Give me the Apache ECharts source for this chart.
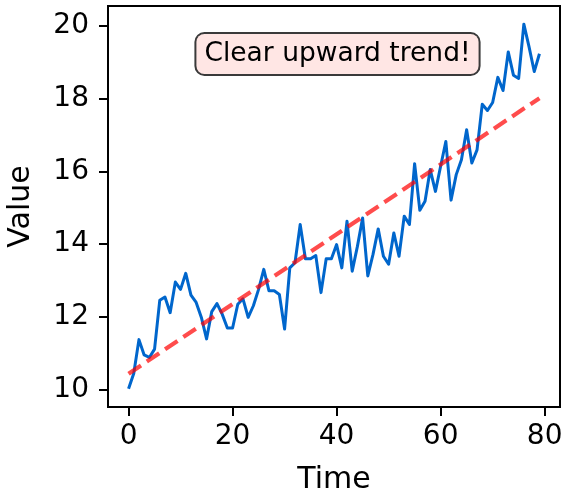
<!DOCTYPE html>
<html>
<head>
<meta charset="utf-8">
<script src="https://cdn.jsdelivr.net/npm/echarts@6/dist/echarts.min.js"></script>
<style>
html,body{margin:0;padding:0;background:#fff;}
#c{width:569px;height:493px;}
</style>
</head>
<body>
<div id="c"></div>
<script>
const times = Array.from({length: 80}, (_, i) => i);
const values = [
  10.03, 10.45, 11.38, 10.96, 10.89, 11.12, 12.46, 12.55, 12.12, 12.96,
  12.76, 13.20, 12.60, 12.40, 11.99, 11.40, 12.15, 12.37, 12.08, 11.70,
  11.70, 12.35, 12.50, 11.99, 12.31, 12.76, 13.31, 12.72, 12.72, 12.62,
  11.67, 13.35, 13.49, 14.54, 13.60, 13.60, 13.69, 12.67, 13.60, 13.60,
  13.99, 13.35, 14.63, 13.26, 13.94, 14.72, 13.13, 13.72, 14.42, 13.67,
  13.45, 14.31, 13.67, 14.77, 14.54, 16.21, 14.93, 15.18, 16.05, 15.45,
  16.14, 16.82, 15.21, 15.91, 16.32, 17.14, 16.23, 16.59, 17.84, 17.67,
  17.89, 18.58, 18.22, 19.28, 18.64, 18.55, 20.04, 19.42, 18.74, 19.23
];
const trendX = [0, 79];
const trendY = [10.44, 18.01];
const xTicks = [0, 20, 40, 60, 80];
const yTicks = [10, 12, 14, 16, 18, 20];
const annotationText = 'Clear upward trend!';

const FONT = '"DejaVu Sans", sans-serif';
const chart = echarts.init(document.getElementById('c'), null, {renderer: 'canvas'});

const axisCommon = {
  axisLine: {show: true, onZero: false, lineStyle: {color: '#000', width: 2}},
  axisTick: {show: true, inside: false, length: 9, lineStyle: {color: '#000', width: 2}},
  splitLine: {show: false},
  nameTextStyle: {fontFamily: FONT, fontSize: 30, color: '#000'}
};

chart.setOption({
  animation: false,
  backgroundColor: '#fff',
  grid: {left: 108, right: 9, top: 6, bottom: 86, containLabel: false, outerBoundsMode: 'none',
         show: true, borderColor: '#000', borderWidth: 2, backgroundColor: 'transparent'},
  xAxis: Object.assign({}, axisCommon, {
    type: 'value', min: -3.95, max: 82.95,
    name: 'Time', nameLocation: 'middle', nameGap: 58,
    axisTick: Object.assign({}, axisCommon.axisTick, {customValues: xTicks}),
    axisLabel: {customValues: xTicks, fontFamily: FONT, fontSize: 28, color: '#000', margin: 16}
  }),
  yAxis: Object.assign({}, axisCommon, {
    type: 'value', min: 9.53, max: 20.54,
    name: 'Value', nameLocation: 'middle', nameGap: 72, nameRotate: 90,
    axisTick: Object.assign({}, axisCommon.axisTick, {customValues: yTicks}),
    axisLabel: {customValues: yTicks, fontFamily: FONT, fontSize: 28, color: '#000', margin: 19}
  }),
  series: [
    {
      type: 'line', name: 'data',
      data: times.map((t, i) => [t, values[i]]),
      showSymbol: false, symbol: 'none',
      lineStyle: {color: '#0066cc', width: 3, join: 'round'},
      z: 2
    },
    {
      type: 'line', name: 'trend',
      data: trendX.map((t, i) => [t, trendY[i]]),
      showSymbol: false, symbol: 'none',
      lineStyle: {color: 'rgba(255,0,0,0.7)', width: 4.2, type: [15, 7], cap: 'butt'},
      z: 3
    }
  ],
  graphic: [{
    type: 'text',
    x: 337.5, y: 54,
    z: 10,
    style: {
      text: annotationText,
      font: '26.5px ' + FONT,
      fill: '#000',
      align: 'center',
      verticalAlign: 'middle',
      backgroundColor: '#ffe6e4',
      borderColor: '#3a3a3a',
      borderWidth: 2,
      borderRadius: 8,
      padding: [5, 8, 5, 8],
      lineHeight: 30
    }
  }]
});
</script>
</body>
</html>
